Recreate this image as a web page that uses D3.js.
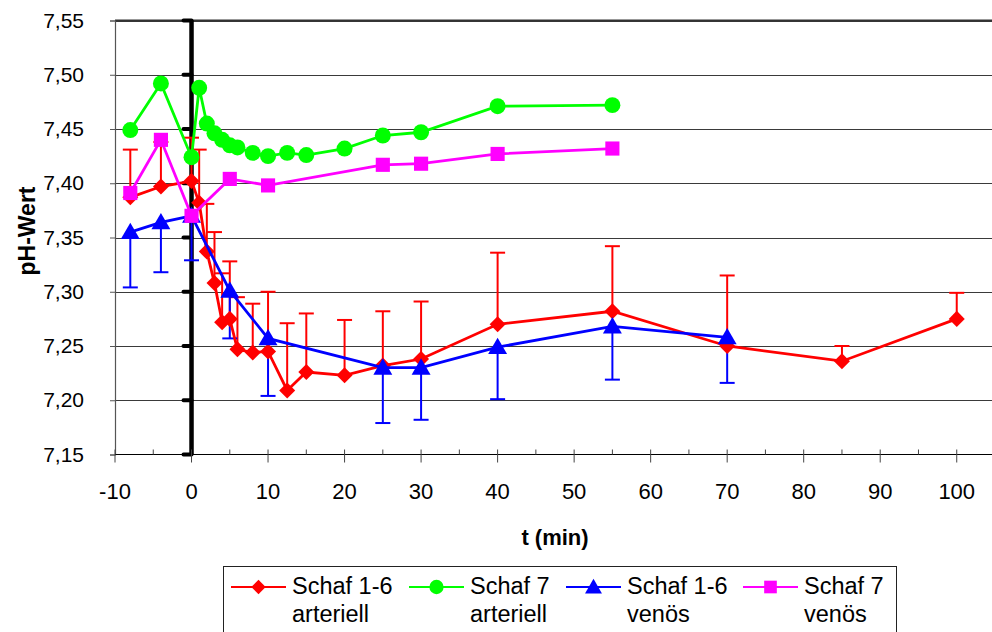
<!DOCTYPE html>
<html><head><meta charset="utf-8">
<script src="https://cdn.jsdelivr.net/npm/d3@7"></script>
<style>
html,body{margin:0;padding:0;background:#fff;}
svg{display:block;font-family:"Liberation Sans",Arial,sans-serif;}
</style></head>
<body><svg id="chart" width="992" height="632"></svg>
<script>
// ---- data ----
const xTicks = [-10,0,10,20,30,40,50,60,70,80,90,100];
const xMinor = [-5,5,15,25,35,45,55,65,75,85,95];
const yTicks = [7.15,7.20,7.25,7.30,7.35,7.40,7.45,7.50,7.55];

const tRedArt = [-8,-4,0,1,2,3,4,5,6,8,10,12.5,15,20,25,30,40,55,70,85,100];
const phRedArt = [7.387,7.397,7.402,7.382,7.337,7.308,7.272,7.275,7.247,7.244,7.245,7.209,7.226,7.223,7.232,7.238,7.270,7.282,7.250,7.236,7.275];
const upRedArt = [7.431,7.438,7.442,7.431,7.381,7.355,7.317,7.328,7.295,7.289,7.300,7.271,7.280,7.274,7.282,7.291,7.336,7.342,7.315,7.250,7.299];

const tGreenArt = [-8,-4,0,1,2,3,4,5,6,8,10,12.5,15,20,25,30,40,55];
const phGreenArt = [7.449,7.492,7.424,7.488,7.455,7.446,7.440,7.435,7.433,7.428,7.425,7.428,7.426,7.432,7.444,7.447,7.471,7.472];

const tBlueVen = [-8,-4,0,5,10,25,30,40,55,70];
const phBlueVen = [7.355,7.364,7.370,7.301,7.257,7.230,7.230,7.249,7.268,7.258];
const loBlueVen = [7.304,7.318,7.329,7.257,7.204,7.179,7.182,7.201,7.219,7.216];

const tMagVen = [-8,-4,0,5,10,25,30,40,55];
const phMagVen = [7.391,7.440,7.370,7.404,7.398,7.417,7.418,7.427,7.432];

const seriesNames = [["Schaf 1-6","arteriell"],["Schaf 7","arteriell"],["Schaf 1-6","venös"],["Schaf 7","venös"]];
const colors = ["#FF0000","#00FF00","#0000FF","#FF00FF"];
const symbols = [d3.symbolSquare, d3.symbolCircle, d3.symbolTriangle, d3.symbolSquare];
const rotations = [45, 0, 0, 0];

// ---- layout ----
const svg = d3.select("#chart");
const L = 115, R = 995, T = 20.5, B = 454.5;
const x = d3.scaleLinear().domain([-10,105]).range([L,R]);
const y = d3.scaleLinear().domain([7.15,7.55]).range([B,T]);
const fmt = v => d3.format(".2f")(v).replace(".", ",");

// gridlines
svg.append("g").selectAll("line").data(yTicks.slice(1)).join("line")
  .attr("x1", L).attr("x2", 992).attr("y1", d => Math.round(y(d))+0.5).attr("y2", d => Math.round(y(d))+0.5)
  .attr("stroke", "#3a3a3a").attr("stroke-width", 1.2);
svg.append("line").attr("x1", L).attr("x2", 992).attr("y1", y(7.55)).attr("y2", y(7.55))
  .attr("stroke", "#333").attr("stroke-width", 2);

// black vertical line at t=0 with ticks
const x0 = x(0);
svg.append("line").attr("x1", x0).attr("x2", x0).attr("y1", y(7.55)).attr("y2", y(7.15))
  .attr("stroke", "#000").attr("stroke-width", 4.5);
svg.append("g").selectAll("line").data(yTicks).join("line")
  .attr("x1", x0 - 8).attr("x2", x0).attr("y1", d => y(d)).attr("y2", d => y(d))
  .attr("stroke", "#000").attr("stroke-width", 4).attr("stroke-linecap", "round");

// axes
const yAxis = d3.axisLeft(y).tickValues(yTicks).tickFormat(fmt).tickSize(5).tickPadding(26);
const gy = svg.append("g").attr("transform", `translate(${L},0)`).call(yAxis);
gy.select(".domain").attr("stroke", "#555").attr("stroke-width", 1.2);
gy.selectAll(".tick line").attr("stroke", "#555");
gy.selectAll("text").attr("font-size", 21).attr("fill", "#000").attr("font-family", "Liberation Sans, Arial, sans-serif");

const gx = svg.append("g").attr("transform", `translate(0,${B})`);
gx.append("line").attr("x1", L).attr("x2", 992).attr("y1", 0).attr("y2", 0).attr("stroke", "#000").attr("stroke-width", 1.2);
gx.selectAll(".maj").data(xTicks).join("line").attr("class","maj")
  .attr("x1", d => x(d)).attr("x2", d => x(d)).attr("y1", -5).attr("y2", 8).attr("stroke", "#444").attr("stroke-width", 1);
gx.selectAll(".min").data(xMinor).join("line").attr("class","min")
  .attr("x1", d => x(d)).attr("x2", d => x(d)).attr("y1", -5).attr("y2", 0).attr("stroke", "#444").attr("stroke-width", 1);
gx.selectAll("text").data(xTicks).join("text")
  .attr("x", d => x(d)).attr("y", 44).attr("text-anchor", "middle")
  .attr("font-size", 22).text(d => d);

// axis titles
svg.append("text").attr("x", 555).attr("y", 545).attr("text-anchor", "middle")
  .attr("font-size", 22).attr("font-weight", "bold").text("t (min)");
svg.append("text").attr("transform", "translate(35,231) rotate(-90)").attr("text-anchor", "middle")
  .attr("font-size", 23).attr("font-weight", "bold").text("pH-Wert");

// error bars
function errBars(ts, vs, ends, color) {
  const g = svg.append("g").attr("stroke", color).attr("stroke-width", 2);
  ts.forEach((t, i) => {
    g.append("line").attr("x1", x(t)).attr("x2", x(t)).attr("y1", y(vs[i])).attr("y2", y(ends[i]));
    g.append("line").attr("x1", x(t) - 7.5).attr("x2", x(t) + 7.5).attr("y1", y(ends[i])).attr("y2", y(ends[i]));
  });
}
errBars(tRedArt, phRedArt, upRedArt, colors[0]);
errBars(tBlueVen, phBlueVen, loBlueVen, colors[2]);

// series
const line = d3.line().x(d => x(d[0])).y(d => y(d[1]));
const symSizes = [128, 200, 155, 200];
function series(ts, vs, k) {
  const pts = ts.map((t, i) => [t, vs[i]]);
  svg.append("path").datum(pts).attr("d", line).attr("fill", "none")
    .attr("stroke", colors[k]).attr("stroke-width", 2.8);
  svg.append("g").selectAll("path").data(pts).join("path")
    .attr("transform", d => `translate(${x(d[0])},${y(d[1]) + (k===2 ? 1.5 : 0)}) rotate(${rotations[k]})`)
    .attr("d", d3.symbol().type(symbols[k]).size(symSizes[k]))
    .attr("fill", colors[k]);
}
series(tRedArt, phRedArt, 0);
series(tGreenArt, phGreenArt, 1);
series(tBlueVen, phBlueVen, 2);
series(tMagVen, phMagVen, 3);

// legend
const lg = svg.append("g");
lg.append("rect").attr("x", 223.5).attr("y", 566.5).attr("width", 673).attr("height", 80)
  .attr("fill", "#fff").attr("stroke", "#222").attr("stroke-width", 1);
const lineStarts = [231, 409, 566, 743];
seriesNames.forEach((nm, k) => {
  const x1 = lineStarts[k];
  lg.append("line").attr("x1", x1).attr("x2", x1 + 55).attr("y1", 587).attr("y2", 587)
    .attr("stroke", colors[k]).attr("stroke-width", 2.2);
  lg.append("path").attr("transform", `translate(${x1 + 27.5},${587 + (k===2 ? 1.5 : 0)}) rotate(${rotations[k]})`)
    .attr("d", d3.symbol().type(symbols[k]).size(symSizes[k] * 0.8)).attr("fill", colors[k]);
  const tx = lg.append("text").attr("x", x1 + 61).attr("font-size", 23.5).attr("fill", "#000");
  tx.append("tspan").attr("x", x1 + 61).attr("y", 594).text(nm[0]);
  tx.append("tspan").attr("x", x1 + 61).attr("y", 622).text(nm[1]);
});
</script></body></html>
